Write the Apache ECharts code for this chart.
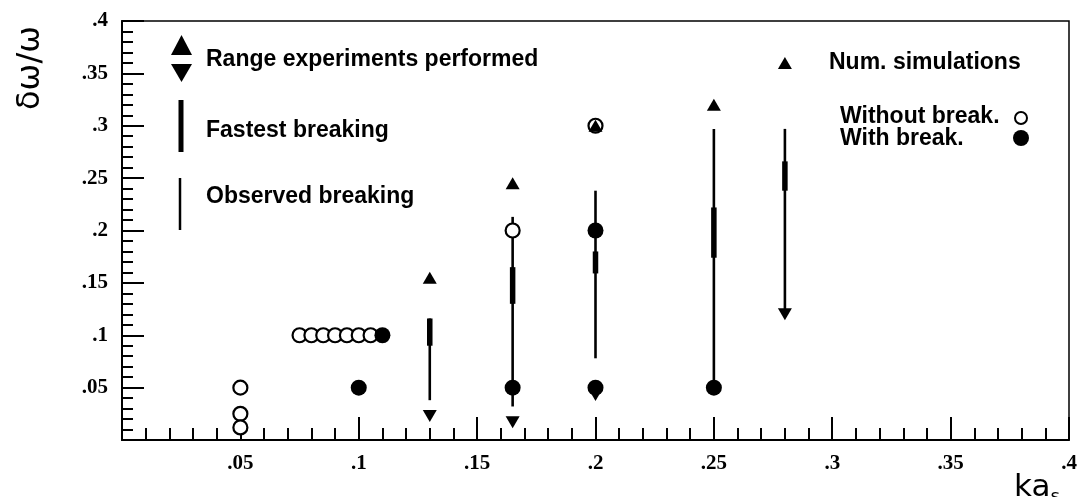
<!DOCTYPE html>
<html>
<head>
<meta charset="utf-8">
<script src="https://cdn.jsdelivr.net/npm/echarts@6/dist/echarts.min.js"></script>
<style>html,body{margin:0;padding:0;background:#fff;}#c{width:1080px;height:497px;}</style>
</head>
<body>
<div id="c"></div>
<script>
// ---- data (ka_s, δω/ω) ----
const openCircles = [[0.05,0.05],[0.05,0.025],[0.05,0.012],[0.075,0.1],[0.08,0.1],[0.085,0.1],[0.09,0.1],[0.095,0.1],[0.1,0.1],[0.105,0.1],[0.165,0.2],[0.2,0.3]];
const filledCircles = [[0.11,0.1],[0.1,0.05],[0.165,0.05],[0.2,0.2],[0.2,0.05],[0.25,0.05]];
const rangeUp = [[0.13,0.155],[0.165,0.245],[0.2,0.3],[0.25,0.32],[0.28,0.36]];
const rangeDown = [[0.13,0.023],[0.165,0.017],[0.2,0.043],[0.28,0.12]];
// [ka_s, low, high]
const fastest = [[0.13,0.09,0.116],[0.165,0.13,0.165],[0.2,0.159,0.18],[0.25,0.174,0.222],[0.28,0.238,0.266]];
const observed = [[0.13,0.038,0.116],[0.165,0.032,0.213],[0.2,0.078,0.238],[0.25,0.05,0.297],[0.28,0.124,0.297]];
const axisMin = 0, axisMax = 0.4, axisStep = 0.05;
const xTitle = 'ka', xTitleSub = 's', yTitle = 'δω/ω';

const fmt = v => (v === 0 ? '' : String(+v.toFixed(3)).replace(/^0/, ''));
const legendFont = 'bold 23px "Liberation Sans", Arial, sans-serif';

function vline(width) {
  return function (params, api) {
    const p1 = api.coord([api.value(0), api.value(1)]);
    const p2 = api.coord([api.value(0), api.value(2)]);
    return { type: 'line', shape: { x1: p1[0], y1: p1[1], x2: p2[0], y2: p2[1] },
             style: { stroke: '#000', lineWidth: width } };
  };
}

const tri = 'path://M5,0 L10,9 L0,9 Z';
const triDown = 'path://M0,0 L10,0 L5,9 Z';

function label(text, x, y, font) {
  return { type: 'text', x: x, y: y, style: { text: text, font: font || legendFont, fill: '#000', verticalAlign: 'middle', align: 'left' } };
}

const chart = echarts.init(document.getElementById('c'), null, { renderer: 'canvas' });
chart.setOption({
  animation: false,
  backgroundColor: '#fff',
  grid: { left: 122, right: 11, top: 21, bottom: 57, containLabel: false, outerBoundsMode: 'none',
          show: true, borderColor: '#000', borderWidth: 1.5 },
  xAxis: {
    type: 'value', min: axisMin, max: axisMax, interval: axisStep,
    axisLine: { lineStyle: { color: '#000', width: 2 } },
    axisTick: { inside: true, length: 23, lineStyle: { color: '#000', width: 2 } },
    minorTick: { show: true, splitNumber: 5, length: 12, lineStyle: { color: '#000', width: 2 } },
    splitLine: { show: false },
    axisLabel: { formatter: fmt, color: '#000', fontFamily: '"Liberation Serif", serif', fontWeight: 'bold', fontSize: 21, margin: 13, showMaxLabel: true }
  },
  yAxis: {
    type: 'value', min: axisMin, max: axisMax, interval: axisStep,
    axisLine: { lineStyle: { color: '#000', width: 2 } },
    axisTick: { inside: true, length: 22, lineStyle: { color: '#000', width: 2 } },
    minorTick: { show: true, splitNumber: 5, length: 11, lineStyle: { color: '#000', width: 2 } },
    splitLine: { show: false },
    axisLabel: { formatter: fmt, color: '#000', fontFamily: '"Liberation Serif", serif', fontWeight: 'bold', fontSize: 21, margin: 14 }
  },
  graphic: [
    { type: 'text', x: 31, y: 68, rotation: Math.PI / 2,
      style: { text: yTitle, font: '32px "DejaVu Sans", sans-serif', fill: '#000', align: 'center', verticalAlign: 'middle' } },
    { type: 'text', x: 1014, y: 470,
      style: { text: '{a|' + xTitle + '}{b|' + xTitleSub + '}', fill: '#000', align: 'left', verticalAlign: 'top',
        rich: { a: { font: '31px "DejaVu Sans", sans-serif', fill: '#000' },
                b: { font: '18px "DejaVu Sans", sans-serif', fill: '#000', padding: [18, 0, 0, 0] } } } },
    { type: 'polygon', shape: { points: [[181.5, 35], [192, 55], [171, 55]] }, style: { fill: '#000' } },
    { type: 'polygon', shape: { points: [[171, 64], [192, 64], [181.5, 82]] }, style: { fill: '#000' } },
    { type: 'line', shape: { x1: 181, y1: 100, x2: 181, y2: 152 }, style: { stroke: '#000', lineWidth: 5 } },
    { type: 'line', shape: { x1: 180, y1: 178, x2: 180, y2: 230 }, style: { stroke: '#000', lineWidth: 2.5 } },
    label('Range experiments performed', 206, 60),
    label('Fastest breaking', 206, 131),
    label('Observed breaking', 206, 197),
    label('Num. simulations', 829, 63),
    label('Without break.', 840, 117),
    label('With break.', 840, 139),
    { type: 'circle', shape: { cx: 1021, cy: 118, r: 6 }, style: { fill: '#fff', stroke: '#000', lineWidth: 2 } },
    { type: 'circle', shape: { cx: 1021, cy: 138, r: 8 }, style: { fill: '#000' } }
  ],
  series: [
    { type: 'custom', name: 'Observed breaking', data: observed, renderItem: vline(2.6), encode: { x: 0, y: [1, 2] }, z: 2 },
    { type: 'custom', name: 'Fastest breaking', data: fastest, renderItem: vline(5.5), encode: { x: 0, y: [1, 2] }, z: 3 },
    { type: 'scatter', name: 'Without break.', data: openCircles, symbol: 'circle', symbolSize: 14,
      itemStyle: { color: '#fff', borderColor: '#000', borderWidth: 2.2, opacity: 1 }, z: 4 },
    { type: 'scatter', name: 'With break.', data: filledCircles, symbol: 'circle', symbolSize: 16,
      itemStyle: { color: '#000', opacity: 1 }, z: 5 },
    { type: 'scatter', name: 'Range up', data: rangeUp, symbol: tri, symbolSize: [14, 12],
      itemStyle: { color: '#000', opacity: 1 }, z: 6 },
    { type: 'scatter', name: 'Range down', data: rangeDown, symbol: triDown, symbolSize: [14, 12],
      itemStyle: { color: '#000', opacity: 1 }, z: 6 }
  ]
});
</script>
</body>
</html>
